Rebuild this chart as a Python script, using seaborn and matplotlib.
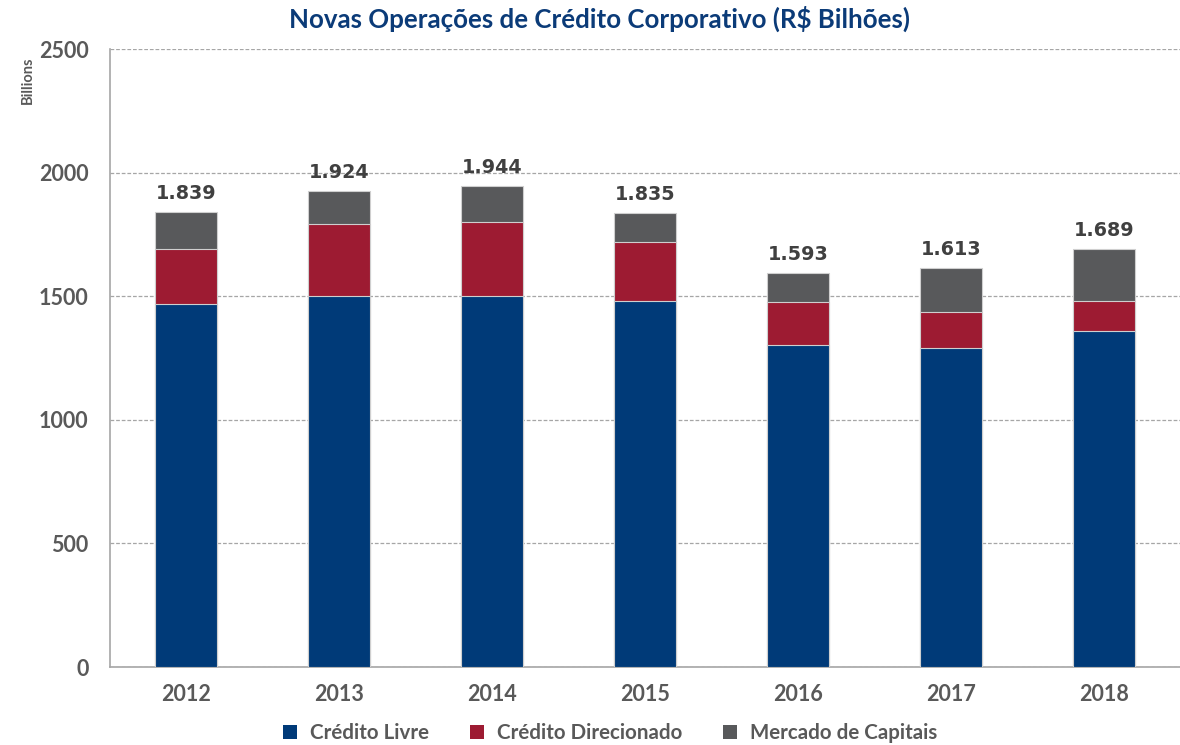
import matplotlib
matplotlib.use("Agg")
import matplotlib.pyplot as plt
from matplotlib.patches import Patch
import seaborn as sns
import pandas as pd

# Values in R$ billions
years = ["2012", "2013", "2014", "2015", "2016", "2017", "2018"]
credito_livre = [1467, 1502, 1502, 1481, 1302, 1290, 1361]
credito_direcionado = [224, 292, 300, 240, 175, 147, 120]
mercado_capitais = [148, 130, 142, 114, 116, 176, 208]
y_ticks = [0, 500, 1000, 1500, 2000, 2500]

series_names = ["Crédito Livre", "Crédito Direcionado", "Mercado de Capitais"]
colors = ["#003A78", "#9D1B32", "#58595B"]
title_color = "#0B3B78"
tick_color = "#595959"

df = pd.DataFrame({
    "ano": years,
    "livre": credito_livre,
    "direcionado": credito_direcionado,
    "mercado": mercado_capitais,
})
df["livre_dir"] = df["livre"] + df["direcionado"]
df["total"] = df["livre_dir"] + df["mercado"]

sns.set_theme(style="white")
plt.rcParams["font.family"] = ["Lato", "DejaVu Sans"]

fig = plt.figure(figsize=(11.8, 7.45), dpi=100)
ax = fig.add_axes([109.5 / 1180, 78 / 745, 1071 / 1180, 618 / 745])

# Stacked bars: draw cumulative heights back to front
edge = dict(edgecolor="#cfcfcf", linewidth=0.8)
sns.barplot(data=df, x="ano", y="total", color=colors[2], width=0.4,
            saturation=1, ax=ax, zorder=3, **edge)
sns.barplot(data=df, x="ano", y="livre_dir", color=colors[1], width=0.4,
            saturation=1, ax=ax, zorder=3, **edge)
sns.barplot(data=df, x="ano", y="livre", color=colors[0], width=0.4,
            saturation=1, ax=ax, zorder=3, **edge)

# Total labels above each bar (Brazilian thousands separator)
for i, tot in enumerate(df["total"]):
    ax.annotate(f"{tot / 1000:.3f}", xy=(i, tot), xytext=(0, 9.5),
                textcoords="offset points", ha="center", va="baseline",
                fontsize=13.8, fontweight="bold", color="#404040",
                family="DejaVu Sans", zorder=4)

ax.set_xlim(-0.5, 6.5)
ax.set_ylim(0, 2500)
ax.set_yticks(y_ticks)
ax.set_yticklabels([str(v) for v in y_ticks])
ax.set_xlabel("")
ax.set_ylabel("")

ax.yaxis.grid(True, linestyle=(0, (3, 1.5)), color="#a6a6a6", linewidth=0.9, zorder=0)
ax.xaxis.grid(False)
ax.set_axisbelow(True)

for side in ["top", "right"]:
    ax.spines[side].set_visible(False)
for side in ["left", "bottom"]:
    ax.spines[side].set_color("#a6a6a6")
    ax.spines[side].set_linewidth(1.2)

ax.tick_params(axis="y", length=0, pad=15, labelsize=15.5, labelcolor=tick_color)
ax.tick_params(axis="x", length=0, pad=12, labelsize=15.5, labelcolor=tick_color)
for lbl in ax.get_xticklabels() + ax.get_yticklabels():
    lbl.set_fontweight("bold")

fig.text(0.508, 0.975, "Novas Operações de Crédito Corporativo (R$ Bilhões)",
         ha="center", va="center", fontsize=18.6, fontweight="bold", color=title_color)

fig.text(28 / 1180, 1 - 80 / 745, "Billions", rotation=90, ha="center", va="center",
         fontsize=10.5, fontweight="bold", color=tick_color)

handles = [Patch(facecolor=c, edgecolor="none") for c in colors]
leg = fig.legend(handles, series_names, loc="center", bbox_to_anchor=(0.517, 1 - 733 / 745),
                 ncol=3, frameon=False, fontsize=14.8, handlelength=0.7, handleheight=0.7,
                 handletextpad=0.6, columnspacing=2.0)
for t in leg.get_texts():
    t.set_color(tick_color)
    t.set_fontweight("bold")

fig.savefig("out.png", dpi=100, facecolor="white")
